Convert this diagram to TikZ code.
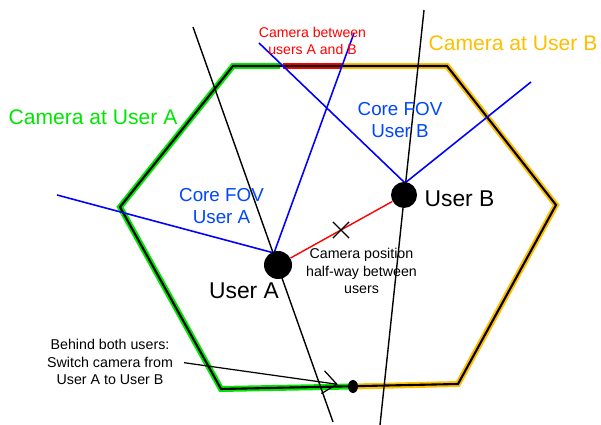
\documentclass[tikz,border=0pt]{standalone}
\usepackage{fontspec}
\setmainfont{Liberation Sans}
\usetikzlibrary{arrows.meta,shapes.misc,shapes.geometric,calc}

\definecolor{camgreen}{RGB}{0,230,0}
\definecolor{camorange}{RGB}{255,190,0}
\definecolor{fovblue}{RGB}{0,70,255}

\tikzset{
  edgehl/.style={line width=3.4pt},
  fov/.style={blue, line width=0.9pt},
  sight/.style={line width=0.8pt},
  user/.style={circle, fill, inner sep=0pt},
  smalltext/.style={font=\fontsize{8.1}{10}\selectfont, align=center},
}

\begin{document}
\begin{tikzpicture}
\useasboundingbox (0,0) rectangle (12.02,8.5);

% which camera is used along the walls
\draw [edgehl, camgreen] (5.60,7.18) -- (4.66,7.18) -- (2.40,4.36) -- (4.42,0.72) -- (7.06,0.77);
\draw [edgehl, red] (5.66,7.18) -- (6.84,7.18);
\draw [edgehl, camorange] (6.84,7.18) -- (8.94,7.18) -- (11.12,4.40) -- (9.16,0.82) -- (7.06,0.77);
% the room
\draw [line width=1.2pt] (4.66,7.18) -- (8.94,7.18) -- (11.12,4.40) -- (9.16,0.82) -- (4.42,0.72) -- (2.40,4.36) -- cycle;

% lines of sight
\draw [sight] (3.86,7.96) -- (6.66,0.06);
\draw [sight] (8.48,8.30) -- (7.60,0.00);

% core fields of view
\coordinate (fova) at (5.48,3.44);
\coordinate (fovb) at (8.10,4.84);
\draw [fov] (1.14,4.60) -- (fova) -- (7.08,7.84);
\draw [fov] (5.18,7.64) -- (fovb) -- (10.62,6.86);

% users
\node (usera) at (5.56,3.20) [user, minimum size=0.56cm] {};
\node (userb) at (8.08,4.60) [user, minimum size=0.52cm] {};
\draw [red, line width=0.8pt] (usera) -- (userb);
\node (midcam) at ($(usera)!0.5!(userb)$) [draw, cross out, minimum size=0.3cm, inner sep=0pt, line width=0.7pt] {};

\node (switchdot) at (7.06,0.77) [ellipse, fill, minimum width=0.2cm, minimum height=0.26cm, inner sep=0pt] {};

% labels
\node (cama) at (1.86,6.16) [camgreen, font=\fontsize{12}{14}\selectfont] {Camera at User A};
\node (camb) at (10.26,7.64) [camorange, font=\fontsize{12}{14}\selectfont] {Camera at User B};
\node (camab) at (6.25,7.68) [red, font=\fontsize{8}{9.5}\selectfont, align=center] {Camera between\\users A and B};
\node (fovlabela) at (4.43,4.38) [fovblue, font=\fontsize{10.7}{12.5}\selectfont, align=center] {Core FOV\\User A};
\node (fovlabelb) at (8.00,6.10) [fovblue, font=\fontsize{10.7}{12.5}\selectfont, align=center] {Core FOV\\User B};
\node (namea) at (4.88,2.68) [font=\fontsize{13}{15}\selectfont] {User A};
\node (nameb) at (9.19,4.52) [font=\fontsize{13}{15}\selectfont] {User B};
\node (halfway) at (7.23,3.08) [smalltext] {Camera position\\half-way between\\users};
\node (behind) at (2.20,1.26) [smalltext] {Behind both users:\\Switch camera from\\User A to User B};

\draw [-{Straight Barb[length=2.8mm,width=4.6mm]}, line width=0.7pt, shorten <=0.1cm, shorten >=0.2cm] (behind.east) -- (switchdot);
\end{tikzpicture}
\end{document}
